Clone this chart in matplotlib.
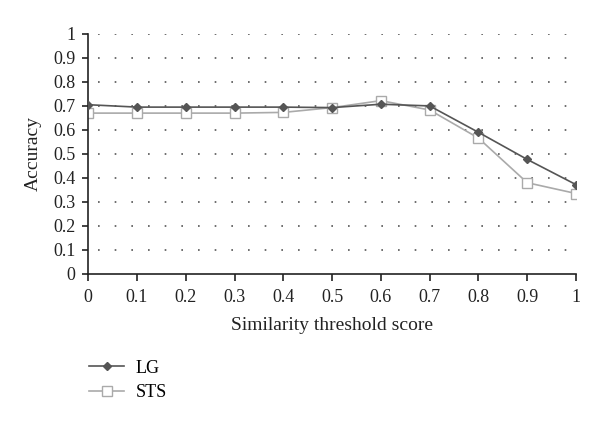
import matplotlib
matplotlib.use("Agg")
import matplotlib.pyplot as plt

thresholds = [0, 0.1, 0.2, 0.3, 0.4, 0.5, 0.6, 0.7, 0.8, 0.9, 1.0]
lg = [0.705, 0.695, 0.695, 0.695, 0.695, 0.693, 0.707, 0.700, 0.590, 0.477, 0.372]
sts = [0.670, 0.670, 0.670, 0.670, 0.673, 0.693, 0.722, 0.683, 0.566, 0.380, 0.335]
xtick_labels = ["0", "0.1", "0.2", "0.3", "0.4", "0.5", "0.6", "0.7", "0.8", "0.9", "1"]
ytick_vals = [0, 0.1, 0.2, 0.3, 0.4, 0.5, 0.6, 0.7, 0.8, 0.9, 1.0]
ytick_labels = ["0", "0.1", "0.2", "0.3", "0.4", "0.5", "0.6", "0.7", "0.8", "0.9", "1"]

plt.rcParams['font.family'] = ['Liberation Serif', 'DejaVu Serif']

fig = plt.figure(figsize=(6, 4.24), dpi=100)
ax = fig.add_axes([0.147, 0.354, 0.813, 0.566])

for y in ytick_vals[1:]:
    ax.axhline(y, xmin=0.02, color='#555555', linestyle=(0, (1, 9)), linewidth=1.2, zorder=0)

l1, = ax.plot(thresholds, lg, color='#555555', marker='D', markersize=4.5, linewidth=1.2,
              markerfacecolor='#555555', markeredgecolor='#555555', label='LG', zorder=3)
l2, = ax.plot(thresholds, sts, color='#aaaaaa', marker='s', markersize=7, linewidth=1.2,
              markerfacecolor='white', markeredgecolor='#aaaaaa', markeredgewidth=1.0, label='STS', zorder=2)

ax.set_xlim(0, 1.0)
ax.set_ylim(0, 1.0)
ax.set_xticks(thresholds)
ax.set_xticklabels(xtick_labels)
ax.set_yticks(ytick_vals)
ax.set_yticklabels(ytick_labels)
ax.tick_params(axis='both', labelsize=13, direction='out', width=1.2, colors='#222222')
ax.tick_params(axis='x', length=5, pad=6)
ax.tick_params(axis='y', length=4, pad=5)
for s in ['top', 'right']:
    ax.spines[s].set_visible(False)
for s in ['left', 'bottom']:
    ax.spines[s].set_linewidth(1.2)
    ax.spines[s].set_color('#222222')
ax.set_xlabel('Similarity threshold score', fontsize=14, labelpad=8, color='#222222')
ax.set_ylabel('Accuracy', fontsize=14, labelpad=8, color='#222222')

fig.legend(handles=[l1, l2], loc='upper left', bbox_to_anchor=(0.122, 0.19),
           frameon=False, fontsize=13, handlelength=1.9, labelspacing=0.4,
           handletextpad=0.67)

fig.savefig('out.png', dpi=100)
